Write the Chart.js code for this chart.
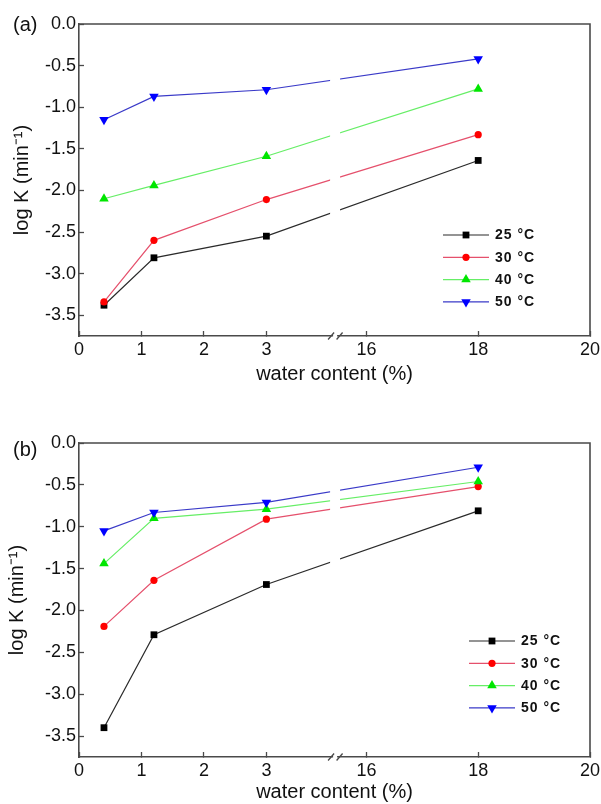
<!DOCTYPE html>
<html>
<head>
<meta charset="utf-8">
<script src="https://cdn.jsdelivr.net/npm/chart.js@4.4.0/dist/chart.umd.min.js"></script>
<style>
  html, body { margin: 0; padding: 0; background: #fff; }
  canvas { position: absolute; left: 0; }
  #chartA { top: 0; }
  #chartB { top: 400px; }
</style>
</head>
<body>
<canvas id="chartA" width="601" height="400"></canvas>
<canvas id="chartB" width="601" height="404"></canvas>
<script>
// values
var waterContent = [0.4, 1.2, 3, 18]
var xTickValues = [0, 1, 2, 3, 16, 18, 20]
var yTickValues = [0, -0.5, -1, -1.5, -2, -2.5, -3, -3.5]
var temperatures = ["25 °C", "30 °C", "40 °C", "50 °C"]

var logKa25 = [-3.38, -2.81, -2.55, -1.64]
var logKa30 = [-3.34, -2.60, -2.11, -1.33]
var logKa40 = [-2.10, -1.94, -1.59, -0.78]
var logKa50 = [-1.15, -0.87, -0.79, -0.42]

var logKb25 = [-3.40, -2.29, -1.69, -0.81]
var logKb30 = [-2.19, -1.64, -0.91, -0.52]
var logKb40 = [-1.44, -0.90, -0.79, -0.46]
var logKb50 = [-1.05, -0.83, -0.71, -0.29]

// broken x axis: 0..~4 then jump to ~15.4..20 (drawn a bit tighter)
var BREAK_AT = 4.1
var RESUME_AT = 15.44
var RIGHT_SCALE = 0.895

function toAxis(x) {
  return x <= BREAK_AT ? x : BREAK_AT + (x - RESUME_AT) * RIGHT_SCALE
}

var axisColor = "#4a4a4a"
var axisWidth = 1.6
var textColor = "#111"

var seriesStyle = [
  { line: "#2a2a2a", point: "#000000", pointStyle: "rect", radius: 4.8, rotation: 0 },
  { line: "#e5506c", point: "#ff0000", pointStyle: "circle", radius: 3.6, rotation: 0 },
  { line: "#66ee66", point: "#00e600", pointStyle: "triangle", radius: 5.5, rotation: 0 },
  { line: "#3a3ac8", point: "#0000ff", pointStyle: "triangle", radius: 5.5, rotation: 180 }
]

Chart.defaults.font.family = "Arial, 'Liberation Sans', sans-serif"
Chart.defaults.color = textColor

function makeDatasets(seriesList) {
  return seriesList.map(function (values, i) {
    var s = seriesStyle[i]
    return {
      label: temperatures[i],
      data: values.map(function (v, j) {
        return { x: toAxis(waterContent[j]), y: v }
      }),
      borderColor: s.line,
      borderWidth: 1.2,
      pointStyle: s.pointStyle,
      pointRotation: s.rotation,
      pointRadius: s.radius,
      pointBackgroundColor: s.point,
      pointBorderColor: s.point,
      pointBorderWidth: 0,
      order: seriesList.length - i,
      tension: 0
    }
  })
}

var decorPlugin = {
  id: "panelDecor",
  beforeDatasetsDraw: function (chart) {
    // top and right sides of the box
    var a = chart.chartArea
    var ctx = chart.ctx
    ctx.save()
    ctx.strokeStyle = axisColor
    ctx.lineWidth = axisWidth
    ctx.beginPath()
    ctx.moveTo(a.left, a.top)
    ctx.lineTo(a.right, a.top)
    ctx.lineTo(a.right, a.bottom)
    ctx.stroke()
    ctx.restore()
  },
  afterDatasetsDraw: function (chart, args, opts) {
    var a = chart.chartArea
    var ctx = chart.ctx
    var xb = chart.scales.x.getPixelForValue(BREAK_AT)

    ctx.save()
    // gap in the lines at the axis break
    ctx.fillStyle = "#fff"
    ctx.fillRect(xb - 5, a.top + 2, 10, a.bottom - a.top - 4)
    ctx.fillRect(xb - 2, a.bottom - 3, 4, 6)
    // the "//" marks
    ctx.strokeStyle = axisColor
    ctx.lineWidth = 1.3
    ctx.beginPath()
    ctx.moveTo(xb - 7, a.bottom + 3.5)
    ctx.lineTo(xb - 1, a.bottom - 3.5)
    ctx.moveTo(xb + 1.5, a.bottom + 3.5)
    ctx.lineTo(xb + 7.5, a.bottom - 3.5)
    ctx.stroke()

    // legend
    ctx.font = "bold 14px Arial, 'Liberation Sans', sans-serif"
    ctx.letterSpacing = "1px"
    ctx.textBaseline = "middle"
    ctx.textAlign = "left"
    chart.data.datasets.forEach(function (ds, i) {
      var y = a.top + opts.legendTop + i * 22.3
      var x0 = a.right - opts.legendRight
      ctx.strokeStyle = ds.borderColor
      ctx.lineWidth = 1.2
      ctx.beginPath()
      ctx.moveTo(x0, y)
      ctx.lineTo(x0 + 46, y)
      ctx.stroke()
      ctx.fillStyle = ds.pointBackgroundColor
      Chart.helpers.drawPoint(ctx, {
        pointStyle: ds.pointStyle,
        rotation: ds.pointRotation,
        radius: ds.pointRadius,
        borderWidth: 0
      }, x0 + 23, y)
      ctx.fillStyle = textColor
      ctx.fillText(ds.label, x0 + 52, y + 0.5)
    })

    // panel letter
    ctx.letterSpacing = "0px"
    ctx.font = "20px Arial, 'Liberation Sans', sans-serif"
    ctx.fillText(opts.name, 13, a.top + opts.nameDy)
    ctx.restore()
  }
}

function makeChart(canvasId, seriesList, panel) {
  return new Chart(document.getElementById(canvasId), {
    type: "line",
    data: { datasets: makeDatasets(seriesList) },
    options: {
      responsive: false,
      animation: false,
      events: [],
      layout: { padding: { top: panel.top, right: 11, left: 0, bottom: 0 } },
      plugins: {
        legend: { display: false },
        tooltip: { enabled: false },
        panelDecor: panel
      },
      scales: {
        x: {
          type: "linear",
          min: 0,
          max: toAxis(20),
          afterBuildTicks: function (axis) {
            axis.ticks = xTickValues.map(function (v) { return { value: toAxis(v) } })
          },
          afterFit: function (axis) {
            axis.height = panel.xAxisHeight
            axis.paddingLeft = 0
            axis.paddingRight = 0
          },
          ticks: {
            autoSkip: false,
            maxRotation: 0,
            padding: 8,
            color: textColor,
            font: { size: 18 },
            callback: function (value, index) { return String(xTickValues[index]) }
          },
          grid: { drawOnChartArea: false, tickLength: -5, tickColor: axisColor, tickWidth: 1.3 },
          border: { color: axisColor, width: axisWidth },
          title: {
            display: true,
            text: "water content (%)",
            color: textColor,
            font: { size: 20 },
            padding: { top: 0, bottom: panel.xTitlePad }
          }
        },
        y: {
          type: "linear",
          min: -3.75,
          max: 0,
          afterBuildTicks: function (axis) {
            axis.ticks = yTickValues.map(function (v) { return { value: v } })
          },
          afterFit: function (axis) { axis.width = 79 },
          ticks: {
            padding: 8,
            color: textColor,
            font: { size: 18 },
            callback: function (value) { return value.toFixed(1) }
          },
          grid: { drawOnChartArea: false, tickLength: -5, tickColor: axisColor, tickWidth: 1.3 },
          border: { color: axisColor, width: axisWidth },
          title: {
            display: true,
            text: "log K (min⁻¹)",
            color: textColor,
            font: { size: 20 },
            padding: { top: panel.yTitlePad, bottom: 0 }
          }
        }
      }
    },
    plugins: [decorPlugin]
  })
}

makeChart("chartA", [logKa25, logKa30, logKa40, logKa50], {
  name: "(a)", nameDy: 1, top: 24, xAxisHeight: 64, xTitlePad: 14, yTitlePad: 10,
  legendTop: 211, legendRight: 147
})

makeChart("chartB", [logKb25, logKb30, logKb40, logKb50], {
  name: "(b)", nameDy: 7, top: 43, xAxisHeight: 47, xTitlePad: 0, yTitlePad: 5,
  legendTop: 198, legendRight: 121
})
</script>
</body>
</html>
